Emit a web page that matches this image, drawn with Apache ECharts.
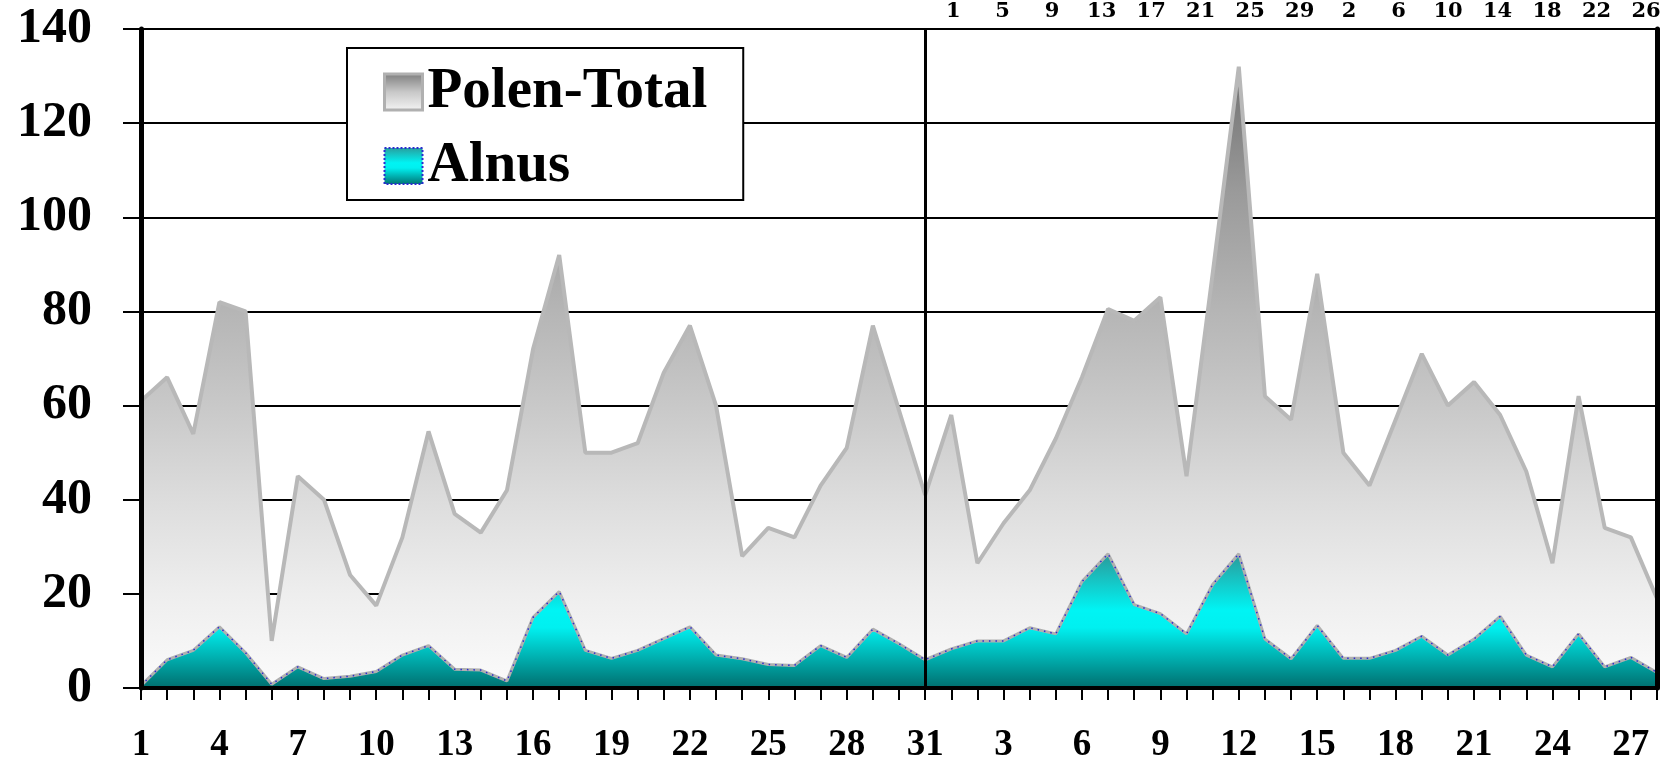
<!DOCTYPE html>
<html>
<head>
<meta charset="utf-8">
<script src="https://cdn.jsdelivr.net/npm/echarts@6/dist/echarts.min.js"></script>
<style>
html,body{margin:0;padding:0;background:#ffffff;}
#chart{width:1663px;height:759px;}
</style>
</head>
<body>
<div id="chart"></div>
<script>
// Day labels: January 1-31, then February 1-28
const days = ['1','2','3','4','5','6','7','8','9','10','11','12','13','14','15','16','17','18','19','20','21','22','23','24','25','26','27','28','29','30','31',
              '1','2','3','4','5','6','7','8','9','10','11','12','13','14','15','16','17','18','19','20','21','22','23','24','25','26','27','28'];

// Polen-Total values
const polenTotal = [61, 66, 54, 82, 80, 10, 45, 40, 24, 17.5, 32, 54.5, 37, 33, 42, 72, 92, 50, 50, 52, 67, 77, 60, 28, 34, 32, 43, 51, 77, 59, 41,
                    58, 26.5, 35, 42, 53, 66, 80.5, 78, 83, 45, 88, 132, 62, 57, 88, 50, 43, 57, 71, 60, 65, 58, 46, 26.5, 62, 34, 32, 19];

// Alnus values
const alnus = [0.5, 6, 8, 13, 7.5, 0.8, 4.5, 2, 2.5, 3.5, 7, 9, 4, 3.8, 1.5, 15, 20.5, 8, 6.3, 8, 10.5, 13, 7, 6.2, 5, 4.8, 9, 6.5, 12.5, 9.4, 6,
               8.3, 10, 10, 12.8, 11.5, 22.6, 28.5, 17.7, 15.8, 11.5, 22, 28.5, 10.4, 6.2, 13.3, 6.3, 6.3, 8, 11, 7, 10.4, 15.2, 7, 4.5, 11.5, 4.5, 6.5, 3.3];

// Y axis scale
const yMin = 0, yMax = 140, yStep = 20;

const chart = echarts.init(document.getElementById('chart'), null, {renderer: 'canvas'});

const greyGrad = () => new echarts.graphic.LinearGradient(0, 0, 0, 1, [
  {offset: 0, color: '#707070'},
  {offset: 0.2, color: '#9a9a9a'},
  {offset: 0.4, color: '#b6b6b6'},
  {offset: 0.55, color: '#c9c9c9'},
  {offset: 0.7, color: '#dddddd'},
  {offset: 0.85, color: '#eeeeee'},
  {offset: 1, color: '#fbfbfb'}
]);
const legendGreyGrad = () => new echarts.graphic.LinearGradient(0, 0, 0, 1, [
  {offset: 0, color: '#7a7a7a'},
  {offset: 0.5, color: '#c8c8c8'},
  {offset: 1, color: '#f6f6f6'}
]);
const cyanGrad = () => new echarts.graphic.LinearGradient(0, 0, 0, 1, [
  {offset: 0, color: '#2a9a9a'},
  {offset: 0.42, color: '#00f4f4'},
  {offset: 0.55, color: '#00f0f0'},
  {offset: 1, color: '#006e6e'}
]);

const serifBold = {fontFamily: 'Liberation Serif', fontWeight: 'bold', color: '#000'};

const option = {
  animation: false,
  backgroundColor: '#ffffff',
  legend: {
    left: 347,
    top: 48,
    orient: 'vertical',
    backgroundColor: '#ffffff',
    borderColor: '#000',
    borderWidth: 2,
    padding: [15, 36, 5, 36],
    itemGap: 16,
    itemWidth: 38,
    itemHeight: 36,
    textStyle: Object.assign({fontSize: 57, lineHeight: 58}, serifBold),
    data: [
      {name: 'Polen-Total', icon: 'rect', itemStyle: {color: legendGreyGrad(), borderColor: '#b0b0b0', borderWidth: 3}},
      {name: 'Alnus', icon: 'rect', itemStyle: {color: cyanGrad(), borderColor: '#2b2bd0', borderWidth: 2, borderType: 'dotted'}}
    ]
  },
  grid: [
    {left: 141, right: 6, top: 29, bottom: 71, containLabel: false, outerBoundsMode: 'none'},
    {left: 947, width: 730, top: 29, bottom: 71, containLabel: false, outerBoundsMode: 'none'}
  ],
  xAxis: [
    {
      type: 'category', gridIndex: 0, data: days, boundaryGap: false, position: 'bottom', z: 5,
      axisLine: {show: true, onZero: false, lineStyle: {color: '#000', width: 4}},
      axisTick: {show: true, interval: 0, length: 12, lineStyle: {color: '#000', width: 2}},
      axisLabel: Object.assign({interval: 2, margin: 39, fontSize: 37}, serifBold),
      splitLine: {show: false}
    },
    {
      type: 'category', gridIndex: 1, data: days, boundaryGap: true, position: 'top',
      axisLine: {show: false}, axisTick: {show: false},
      axisLabel: {interval: 3, margin: 7, fontFamily: 'DejaVu Serif', fontWeight: 'bold', fontSize: 21, color: '#000'},
      splitLine: {show: false}
    }
  ],
  yAxis: [
    {
      type: 'value', gridIndex: 0, min: yMin, max: yMax, interval: yStep, position: 'left', z: 0,
      axisLine: {show: false}, axisTick: {show: false}, axisLabel: {show: false},
      splitLine: {show: true, lineStyle: {color: '#000', width: 2}}
    },
    {
      type: 'value', gridIndex: 0, min: yMin, max: yMax, interval: yStep, position: 'left', z: 5,
      axisLine: {show: true, onZero: false, lineStyle: {color: '#000', width: 5}},
      axisTick: {show: true, length: 18, lineStyle: {color: '#000', width: 2}},
      axisLabel: Object.assign({margin: 49, fontSize: 50}, serifBold),
      splitLine: {show: false}
    },
    {
      type: 'value', gridIndex: 0, min: yMin, max: yMax, interval: yStep, position: 'right', z: 5,
      axisLine: {show: true, onZero: false, lineStyle: {color: '#000', width: 5}},
      axisTick: {show: false}, axisLabel: {show: false}, splitLine: {show: false}
    },
    {type: 'value', gridIndex: 1, show: false}
  ],
  series: [
    {
      name: 'Polen-Total', type: 'line', xAxisIndex: 0, yAxisIndex: 0, data: polenTotal,
      symbol: 'none', z: 2,
      lineStyle: {color: '#b8b8b8', width: 4},
      areaStyle: {color: greyGrad(), opacity: 1}
    },
    {
      name: 'Alnus', type: 'line', xAxisIndex: 0, yAxisIndex: 0, data: alnus,
      symbol: 'none', z: 3,
      lineStyle: {color: '#b0b0b0', width: 3},
      areaStyle: {color: cyanGrad(), opacity: 1},
      markLine: {
        silent: true, symbol: 'none', label: {show: false},
        lineStyle: {color: '#000', width: 3, type: 'solid'},
        data: [{xAxis: 30}]
      }
    },
    {
      name: 'Alnus-edge', type: 'line', xAxisIndex: 0, yAxisIndex: 0, data: alnus,
      symbol: 'none', z: 4, silent: true,
      lineStyle: {color: '#2b2bd0', width: 1.5, type: [1.5, 5]}
    }
  ]
};
chart.setOption(option);
</script>
</body>
</html>
